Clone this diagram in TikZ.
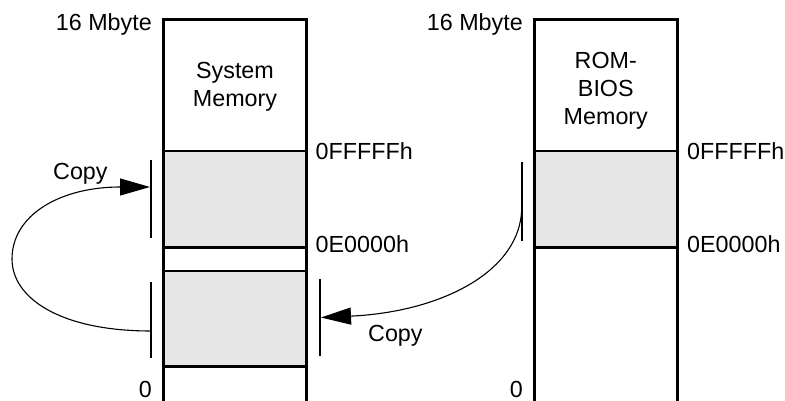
\documentclass[tikz,border=0pt]{standalone}
\usepackage{fontspec}
\setmainfont{Liberation Sans}
\usetikzlibrary{arrows.meta}
\definecolor{shadegray}{RGB}{230,230,230}
\tikzset{
  wall/.style={line width=2.5pt},
  barline/.style={line width=2.4pt},
  flow/.style={line width=1.1pt,-{Triangle[length=30pt,width=17pt]}},
  lbl/.style={inner sep=0pt,font=\fontsize{23.3}{28}\selectfont},
  region/.style={fill=shadegray},
}
\begin{document}
\begin{tikzpicture}[x=1pt,y=-1pt]
\useasboundingbox (0,0) rectangle (785,401);
% ---- System memory column
\fill[region] (163.3,151) rectangle (306.7,247.3);
\fill[region] (163.3,271) rectangle (306.7,366.7);
\draw[wall] (163.3,402) -- (163.3,19.3) -- (306.7,19.3) -- (306.7,402);
\draw[wall] (163.3,151) -- (306.7,151);
\draw[wall] (163.3,247.3) -- (306.7,247.3);
\draw[wall] (163.3,271) -- (306.7,271);
\draw[wall] (163.3,366.7) -- (306.7,366.7);
% ---- ROM-BIOS memory column
\fill[region] (534.3,151) rectangle (677.3,247.3);
\draw[wall] (534.3,402) -- (534.3,19.3) -- (677.3,19.3) -- (677.3,402);
\draw[wall] (534.3,151) -- (677.3,151);
\draw[wall] (534.3,247.3) -- (677.3,247.3);
% ---- texts
\node[lbl,anchor=base east] (top1) at (152,31) {16 Mbyte};
\node[lbl,anchor=base east] (top2) at (523,31) {16 Mbyte};
\node[lbl,align=center] (sysmem) at (235,87) {System\\Memory};
\node[lbl,align=center] (rommem) at (605.8,90.7) {ROM-\\BIOS\\Memory};
\node[lbl,anchor=base west] (hiA) at (315.5,160) {0FFFFFh};
\node[lbl,anchor=base west] (loA) at (315.5,252.5) {0E0000h};
\node[lbl,anchor=base west] (hiB) at (687,160) {0FFFFFh};
\node[lbl,anchor=base west] (loB) at (687,252.5) {0E0000h};
\node[lbl,anchor=base east] (zeroA) at (152,397.5) {0};
\node[lbl,anchor=base east] (zeroB) at (523,397.5) {0};
\node[lbl,anchor=base west] (copyA) at (53,179) {Copy};
\node[lbl,anchor=base west] (copyB) at (368,341.5) {Copy};
% ---- bars
\coordinate (barAtop) at (151,160);
\coordinate (barAbot) at (151,238);
\coordinate (barBtop) at (151,282);
\coordinate (barBbot) at (151,358);
\coordinate (barCtop) at (320,279);
\coordinate (barCbot) at (320,356);
\coordinate (barDtop) at (521.7,162);
\coordinate (barDbot) at (521.7,241);
\draw[barline] (barAtop) -- (barAbot);
\draw[barline] (barBtop) -- (barBbot);
\draw[barline] (barCtop) -- (barCbot);
\draw[barline] (barDtop) -- (barDbot);
% ---- copy arrows
\coordinate (srcB) at (151,331);
\coordinate (dstA) at (150,187);
\coordinate (srcD) at (521.7,207);
\coordinate (dstC) at (321,317.5);
\draw[flow] (srcB) .. controls (60,331) and (12,298) .. (12,259)
  .. controls (12,215) and (60,187) .. (dstA);
\draw[flow] (srcD) .. controls (521.7,272) and (440,312) .. (dstC);
\end{tikzpicture}
\end{document}
